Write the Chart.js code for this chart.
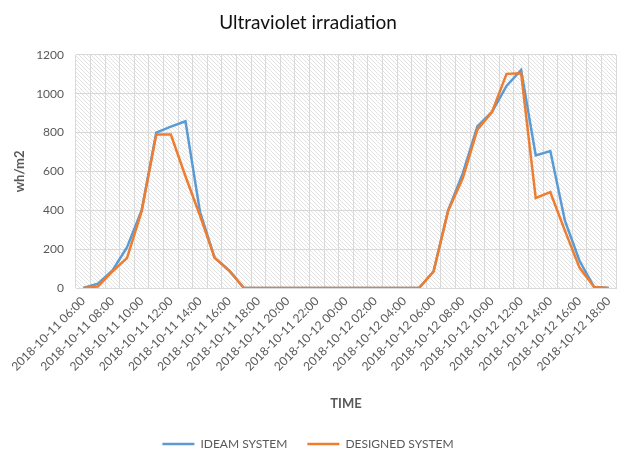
<!DOCTYPE html>
<html>
<head>
<meta charset="utf-8">
<script src="https://cdn.jsdelivr.net/npm/chart.js@4/dist/chart.umd.min.js"></script>
<style>
  html, body { margin: 0; padding: 0; background: #fff; }
  #wrap { width: 617px; height: 455px; }
</style>
</head>
<body>
<div id="wrap"><canvas id="chart" width="617" height="455"></canvas></div>
<script>
// hourly readings, 2018-10-11 06:00 .. 2018-10-12 18:00
const times = [
  '2018-10-11 06:00', '2018-10-11 07:00', '2018-10-11 08:00', '2018-10-11 09:00',
  '2018-10-11 10:00', '2018-10-11 11:00', '2018-10-11 12:00', '2018-10-11 13:00',
  '2018-10-11 14:00', '2018-10-11 15:00', '2018-10-11 16:00', '2018-10-11 17:00',
  '2018-10-11 18:00', '2018-10-11 19:00', '2018-10-11 20:00', '2018-10-11 21:00',
  '2018-10-11 22:00', '2018-10-11 23:00', '2018-10-12 00:00', '2018-10-12 01:00',
  '2018-10-12 02:00', '2018-10-12 03:00', '2018-10-12 04:00', '2018-10-12 05:00',
  '2018-10-12 06:00', '2018-10-12 07:00', '2018-10-12 08:00', '2018-10-12 09:00',
  '2018-10-12 10:00', '2018-10-12 11:00', '2018-10-12 12:00', '2018-10-12 13:00',
  '2018-10-12 14:00', '2018-10-12 15:00', '2018-10-12 16:00', '2018-10-12 17:00',
  '2018-10-12 18:00'
];

const ideam = [
  0, 22, 90, 210, 400, 800, 830, 858, 390, 155, 90, 0,
  0, 0, 0, 0, 0, 0, 0, 0, 0, 0, 0, 0,
  85, 400, 590, 832, 906, 1040, 1122, 682, 705, 346, 140, 5, 0
];

const designed = [
  0, 8, 85, 155, 395, 790, 790, 575, 372, 155, 90, 0,
  0, 0, 0, 0, 0, 0, 0, 0, 0, 0, 0, 0,
  85, 398, 565, 815, 905, 1102, 1105, 463, 493, 295, 105, 5, 0
];

const yTicks = [0, 200, 400, 600, 800, 1000, 1200];

const FONT = 'Lato, "Open Sans", sans-serif';
const TEXT = '#595959';
const GRID = '#d9d9d9';

// diagonal hatch behind the plot area
function hatch(ctx) {
  const c = document.createElement('canvas');
  c.width = 4; c.height = 4;
  const g = c.getContext('2d');
  g.strokeStyle = 'rgba(190,190,190,0.45)';
  g.lineWidth = 1;
  g.beginPath();
  g.moveTo(-1, -1); g.lineTo(5, 5);
  g.moveTo(3, -1); g.lineTo(5, 1);
  g.moveTo(-1, 3); g.lineTo(1, 5);
  g.stroke();
  return ctx.createPattern(c, 'repeat');
}

const hatchPlugin = {
  id: 'hatch',
  beforeDraw(chart) {
    const { ctx, chartArea: a } = chart;
    ctx.save();
    ctx.fillStyle = hatch(ctx);
    ctx.fillRect(a.left, a.top, a.right - a.left, a.bottom - a.top);
    ctx.restore();
  }
};

new Chart(document.getElementById('chart'), {
  type: 'line',
  data: {
    labels: times,
    datasets: [
      {
        label: 'IDEAM SYSTEM',
        data: ideam,
        borderColor: '#5b9bd5',
        backgroundColor: '#5b9bd5',
        borderWidth: 2.5,
        pointRadius: 0,
        tension: 0,
        order: 2
      },
      {
        label: 'DESIGNED SYSTEM',
        data: designed,
        borderColor: '#ed7d31',
        backgroundColor: '#ed7d31',
        borderWidth: 2.5,
        pointRadius: 0,
        tension: 0,
        order: 1
      }
    ]
  },
  options: {
    responsive: false,
    animation: false,
    layout: { padding: { top: 0, right: 1, bottom: -5, left: 0 } },
    plugins: {
      title: {
        display: true,
        text: 'Ultraviolet irradiation',
        color: '#111',
        font: { family: FONT, size: 19, weight: 'normal' },
        padding: { top: 11, bottom: 21 }
      },
      legend: {
        position: 'bottom',
        labels: {
          color: TEXT,
          font: { family: FONT, size: 12 },
          usePointStyle: true,
          pointStyle: 'line',
          pointStyleWidth: 32,
          padding: 20,
          sort: (a, b) => a.datasetIndex - b.datasetIndex
        }
      },
      tooltip: { enabled: false }
    },
    scales: {
      x: {
        offset: true,
        grid: { offset: true, color: GRID, drawTicks: false },
        border: { color: GRID },
        ticks: {
          autoSkip: false,
          maxRotation: 45,
          minRotation: 45,
          padding: 6,
          color: TEXT,
          font: { family: FONT, size: 12 },
          callback: (v, i) => (i % 2 === 0 ? times[i] : '')
        },
        title: {
          display: true,
          text: 'TIME',
          color: TEXT,
          font: { family: FONT, size: 13, weight: 'bold' },
          padding: { top: 4, bottom: 6 }
        },
        afterFit: s => { s.height = 130; s.paddingRight = 0; }
      },
      y: {
        min: 0,
        max: 1200,
        grid: { color: GRID, drawTicks: false },
        border: { display: false },
        afterBuildTicks: s => { s.ticks = yTicks.map(v => ({ value: v })); },
        ticks: {
          padding: 12,
          color: TEXT,
          font: { family: FONT, size: 12 },
          callback: v => String(v)
        },
        title: {
          display: true,
          text: 'wh/m2',
          color: TEXT,
          font: { family: FONT, size: 13, weight: 'bold' },
          padding: { top: 12, bottom: 8 }
        },
        afterFit: s => { s.width = 76; }
      }
    }
  },
  plugins: [hatchPlugin]
});
</script>
</body>
</html>
